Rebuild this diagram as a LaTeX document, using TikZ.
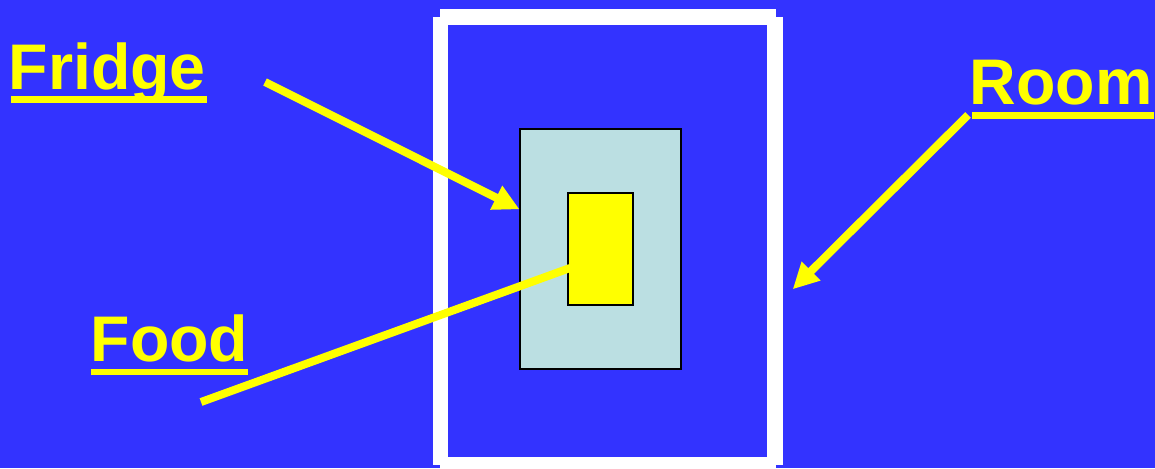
\documentclass[tikz,border=0pt]{standalone}
\usepackage{fontspec}
\setmainfont{Liberation Sans}
\usetikzlibrary{arrows.meta}
\definecolor{bgblue}{HTML}{3333FF}
\definecolor{fridgecol}{HTML}{BBDFE2}
\definecolor{yel}{HTML}{FFFF00}
\tikzset{
  lbl/.style={text=yel, font=\bfseries\fontsize{64.5}{70}\selectfont, inner sep=0pt, anchor=base west},
  uline/.style={fill=yel, draw=none},
  wall/.style={draw=white, line width=15.5pt, line cap=butt},
  box/.style={draw=black, line width=2pt, inner sep=0pt, minimum width=#1},
  pointer/.style={draw=yel, line width=8pt, -{Triangle[length=26pt,width=25pt]}},
  plainline/.style={draw=yel, line width=8pt}
}
\begin{document}
\begin{tikzpicture}[x=1pt,y=-1pt]
\fill[bgblue] (0,0) rectangle (1155,468);
\useasboundingbox (0,0) rectangle (1155,468);
% room walls
\draw[wall] (440,17) -- (776,17);
\draw[wall] (440,465) -- (776,465);
\draw[wall] (440.5,17) -- (440.5,465);
\draw[wall] (775,17) -- (775,465);
% fridge and food
\node[box=160.7pt, minimum height=240pt, fill=fridgecol] (fridge) at (600.3,249.3) {};
\node[box=64.7pt, minimum height=112pt, fill=yel] (food) at (600.3,249.3) {};
% labels
\node[lbl] (fridgelbl) at (8.5,90) {Fridge};
\node[lbl] (roomlbl) at (969.5,105) {Room};
\node[lbl] (foodlbl) at (90.5,361.5) {Food};
\fill[uline] (11,96.5) rectangle (207,103);
\fill[uline] (972,112) rectangle (1154,118.5);
\fill[uline] (91,368.5) rectangle (248,375);
% connectors
\coordinate (fridgetail) at (265,82);
\coordinate (fridgetip) at (519.5,209.3);
\coordinate (roomtail) at (968,115);
\coordinate (roomtip) at (792.7,289.3);
\coordinate (foodtail) at (201,402);
\coordinate (foodend) at (570,268);
\draw[pointer] (fridgetail) -- (fridgetip);
\draw[pointer] (roomtail) -- (roomtip);
\draw[plainline] (foodtail) -- (foodend);
\end{tikzpicture}
\end{document}
